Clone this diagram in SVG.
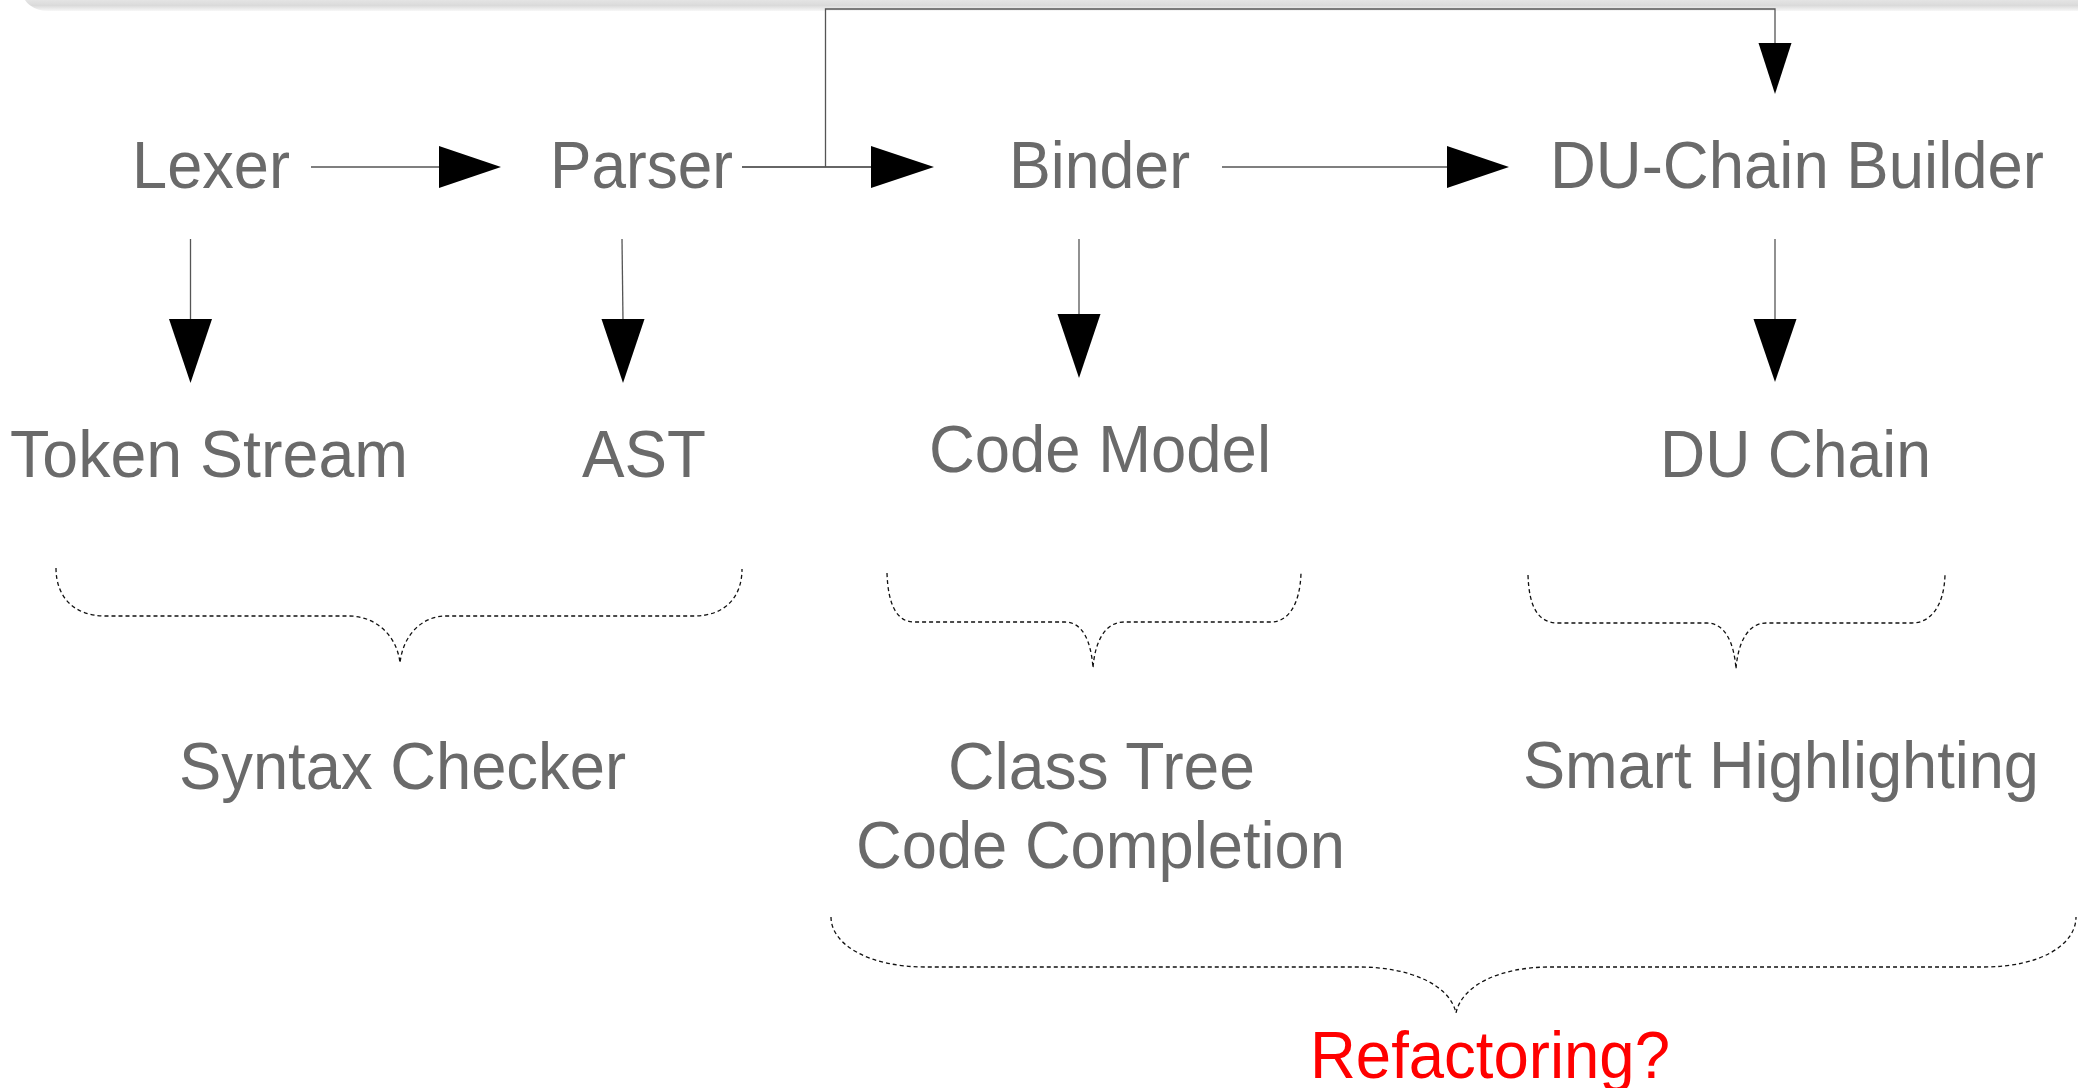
<svg xmlns="http://www.w3.org/2000/svg" width="2078" height="1088" viewBox="0 0 2078 1088">
<style>
.t{font-family:"Liberation Sans",Arial,sans-serif;font-size:66px;fill:#6a6a6a}
.r{fill:#ff0000}
.ln{stroke:#555;stroke-width:1.3;fill:none}
.ah{fill:#000}
.br{stroke:#111;stroke-width:1.3;fill:none;stroke-dasharray:4 3}
</style>
<defs>
<linearGradient id="sh" gradientUnits="userSpaceOnUse" x1="0" y1="0" x2="0" y2="11">
<stop offset="0" stop-color="#e4e4e4"/>
<stop offset="0.5" stop-color="#dadada"/>
<stop offset="1" stop-color="#f7f7f7"/>
</linearGradient>
</defs>
<rect width="2078" height="1088" fill="#fff"/>
<rect x="22" y="-30" width="2100" height="41" rx="26" fill="url(#sh)"/>

<g id="connectors">
<path class="ln" d="M311,167 H441"/>
<polygon class="ah" points="439,146 501,167 439,188"/>
<path class="ln" d="M742,167 H873" style="stroke:#333;stroke-width:1.6"/>
<polygon class="ah" points="871,146 934,167 871,188"/>
<path class="ln" d="M1222,167 H1449"/>
<polygon class="ah" points="1447,146 1509,167 1447,188"/>
<path class="ln" d="M825.5,167 V9 H1775 V45"/>
<polygon class="ah" points="1758.5,43 1791.5,43 1775,94"/>
<path class="ln" d="M190.5,239 V321"/>
<polygon class="ah" points="169,319 212,319 190.5,383"/>
<path class="ln" d="M622,239 L623,321"/>
<polygon class="ah" points="601.5,319 644.5,319 623,383"/>
<path class="ln" d="M1079,239 V316"/>
<polygon class="ah" points="1057.5,314 1100.5,314 1079,378"/>
<path class="ln" d="M1775,239 V321"/>
<polygon class="ah" points="1753.5,319 1796.5,319 1775,382"/>
</g>

<g id="braces">
<path class="br" d="M56,568 C56,598 75,616 105,616 H349 C375,616 397,635 400,663 C403,635 422,616 446,616 H694 C724,616 742,598 742,569"/>
<path class="br" d="M887,573 C888,605 897,622 914,622 H1065 C1082,622 1091,640 1093,668 C1095,640 1106,622 1124,622 H1271 C1288,622 1300,605 1301,573"/>
<path class="br" d="M1528,575 C1529,607 1538,623 1558,623 H1707 C1724,623 1734,641 1736,669 C1738,641 1749,623 1766,623 H1912 C1930,623 1944,607 1945,575"/>
<path class="br" d="M831,917 C831,945 870,967 925,967 H1359 C1410,967 1450,985 1456,1013 C1462,985 1500,967 1550,967 H1984 C2040,967 2076,945 2076,917"/>
</g>

<g id="lexer"><text class="t" x="132" y="188" textLength="158" lengthAdjust="spacingAndGlyphs">Lexer</text></g>
<g id="parser"><text class="t" x="550" y="188" textLength="183" lengthAdjust="spacingAndGlyphs">Parser</text></g>
<g id="binder"><text class="t" x="1009" y="188" textLength="181" lengthAdjust="spacingAndGlyphs">Binder</text></g>
<g id="du-chain-builder"><text class="t" x="1550" y="188" textLength="494" lengthAdjust="spacingAndGlyphs">DU-Chain Builder</text></g>
<g id="token-stream"><text class="t" x="10" y="477" textLength="398" lengthAdjust="spacingAndGlyphs">Token Stream</text></g>
<g id="ast"><text class="t" x="582" y="477" textLength="124" lengthAdjust="spacingAndGlyphs">AST</text></g>
<g id="code-model"><text class="t" x="929" y="472" textLength="342" lengthAdjust="spacingAndGlyphs">Code Model</text></g>
<g id="du-chain"><text class="t" x="1660" y="477" textLength="271" lengthAdjust="spacingAndGlyphs">DU Chain</text></g>
<g id="syntax-checker"><text class="t" x="179" y="789" textLength="447" lengthAdjust="spacingAndGlyphs">Syntax Checker</text></g>
<g id="class-tree-code-completion">
<text class="t" x="948" y="789" textLength="307" lengthAdjust="spacingAndGlyphs">Class Tree</text>
<text class="t" x="856" y="868" textLength="489" lengthAdjust="spacingAndGlyphs">Code Completion</text>
</g>
<g id="smart-highlighting"><text class="t" x="1523" y="788" textLength="516" lengthAdjust="spacingAndGlyphs">Smart Highlighting</text></g>
<g id="refactoring"><text class="t r" x="1310" y="1078" textLength="360" lengthAdjust="spacingAndGlyphs">Refactoring?</text></g>
</svg>
